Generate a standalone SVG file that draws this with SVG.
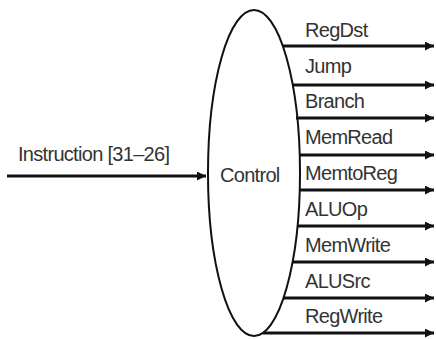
<svg xmlns="http://www.w3.org/2000/svg" width="436" height="339" viewBox="0 0 436 339">
<defs>
<marker id="ah" viewBox="0 0 10 10" refX="10" refY="5" markerWidth="3.2" markerHeight="3" markerUnits="strokeWidth" orient="auto">
<path d="M0,0 L10,5 L0,10 z" fill="#111"/>
</marker>
<style>
.lbl{font-family:"Liberation Sans",Arial,sans-serif;font-size:20px;fill:#333;letter-spacing:-0.7px}
.wire{stroke:#111;stroke-width:3;fill:none;marker-end:url(#ah)}
</style>
</defs>
<rect width="436" height="339" fill="#fff"/>
<g id="control">
<ellipse cx="254" cy="173" rx="46" ry="163" fill="#fff" stroke="#111" stroke-width="2"/>
<text class="lbl" x="220" y="182">Control</text>
</g>
<g id="input-label">
<text class="lbl" x="18" y="161">Instruction [31–26]</text>
</g>
<g id="outputs">
<text class="lbl" x="305" y="37">RegDst</text>
<text class="lbl" x="305" y="73">Jump</text>
<text class="lbl" x="305" y="108">Branch</text>
<text class="lbl" x="305" y="144">MemRead</text>
<text class="lbl" x="305" y="180">MemtoReg</text>
<text class="lbl" x="305" y="216">ALUOp</text>
<text class="lbl" x="305" y="252">MemWrite</text>
<text class="lbl" x="305" y="288">ALUSrc</text>
<text class="lbl" x="305" y="323">RegWrite</text>
</g>
<g id="connectors">
<line class="wire" x1="7" y1="176" x2="206" y2="176"/>
<line class="wire" x1="283" y1="46" x2="434" y2="46"/>
<line class="wire" x1="292" y1="85" x2="434" y2="85"/>
<line class="wire" x1="296" y1="118" x2="434" y2="118"/>
<line class="wire" x1="299" y1="155" x2="434" y2="155"/>
<line class="wire" x1="300" y1="190" x2="434" y2="190"/>
<line class="wire" x1="298" y1="226" x2="434" y2="226"/>
<line class="wire" x1="293" y1="262" x2="434" y2="262"/>
<line class="wire" x1="284" y1="298" x2="434" y2="298"/>
<line class="wire" x1="263" y1="333" x2="434" y2="333"/>
</g>
</svg>
